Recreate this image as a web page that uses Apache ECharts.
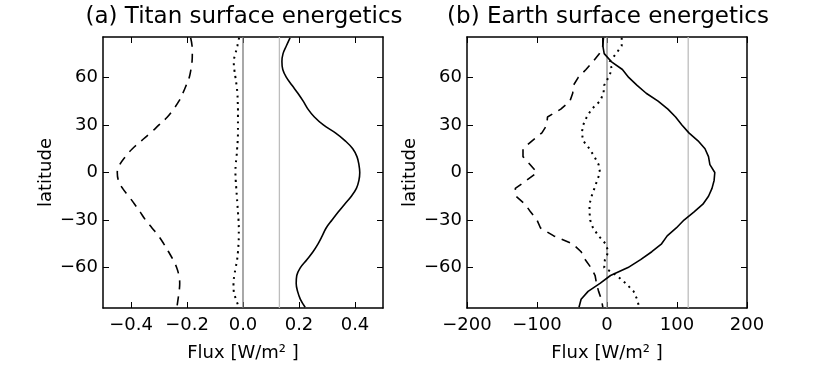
<!DOCTYPE html>
<html>
<head>
<meta charset="utf-8">
<script src="https://cdn.jsdelivr.net/npm/echarts@6/dist/echarts.min.js"></script>
<style>
  html, body { margin: 0; padding: 0; background: #fff; }
  #chart { width: 830px; height: 367px; }
</style>
</head>
<body>
<div id="chart"></div>
<script>
// latitude (deg) shared by all curves
var latitudes = [85, 80, 75, 70, 65, 60, 55, 50, 45, 40, 35, 30, 25, 20, 15, 10, 5, 0,
  -5, -10, -15, -20, -25, -30, -35, -40, -45, -50, -55, -60, -65, -70, -75, -80, -85];

// (a) Titan surface fluxes [W/m2]
var titanDashed = [-0.187, -0.182, -0.181, -0.182, -0.186, -0.192, -0.203, -0.215, -0.229, -0.248,
  -0.27, -0.3, -0.33, -0.363, -0.395, -0.42, -0.44, -0.449,
  -0.445, -0.43, -0.408, -0.387, -0.367, -0.348, -0.325, -0.302, -0.283, -0.266, -0.25, -0.237,
  -0.229, -0.226, -0.228, -0.232, -0.236];
var titanDotted = [-0.014, -0.02, -0.027, -0.033, -0.031, -0.027, -0.023, -0.02, -0.019, -0.018,
  -0.018, -0.018, -0.018, -0.019, -0.021, -0.023, -0.026, -0.027,
  -0.026, -0.024, -0.022, -0.02, -0.018, -0.016, -0.015, -0.015, -0.016, -0.018, -0.021, -0.026,
  -0.031, -0.034, -0.033, -0.025, -0.015];
var titanSolid = [0.168, 0.155, 0.143, 0.139, 0.142, 0.155, 0.175, 0.196, 0.215, 0.232,
  0.255, 0.287, 0.33, 0.365, 0.392, 0.407, 0.414, 0.417,
  0.414, 0.405, 0.387, 0.363, 0.34, 0.318, 0.297, 0.283, 0.268, 0.25, 0.228, 0.205,
  0.192, 0.19, 0.195, 0.205, 0.222];

// (b) Earth surface fluxes [W/m2]
var earthDashed = [-5, -6, -11, -20, -30, -41, -48, -49, -53, -66,
  -85, -86, -93, -107, -120, -120, -110, -100,
  -115, -131, -130, -117, -109, -100, -95, -76, -49, -37, -31, -23,
  -17, -15, -12, -8, -6];
var earthDotted = [21, 21, 13, 4, 7, 2, -4, -5, -10, -22,
  -29, -34, -36, -34, -25, -18, -12, -10,
  -14, -18, -22, -25, -25, -24, -20, -12, -2, 2, -3, -4,
  14, 27, 38, 43, 46];
var earthSolid = [-6, -6, -4, 6, 22, 31, 43, 56, 73, 87,
  98, 107, 117, 130, 140, 145, 147, 154,
  153, 150, 145, 137, 124, 110, 99, 86, 78, 64, 48, 30,
  5, -10, -27, -37, -40];

// thin grey verticals
var titanRef = [0, 0.13];
var earthRef = [0, 116];

var titanTicks = [-0.4, -0.2, 0, 0.2, 0.4];
var earthTicks = [-200, -100, 0, 100, 200];
var latTicks = [-60, -30, 0, 30, 60];
var latMin = -85.5, latMax = 85.5;

var FONT = 'DejaVu Sans';

function minus(s) { return String(s).replace('-', '\u2212'); }

function pairs(xs) {
  return xs.map(function (v, i) { return [v, latitudes[i]]; });
}

function tick(vals) {
  return { show: true, inside: true, length: 6, customValues: vals, lineStyle: { color: '#000', width: 1 } };
}
var frame = { show: true, onZero: false, lineStyle: { color: '#000', width: 1.5 } };

function xPair(gi, min, max, ticks, fmt) {
  return [
    {
      type: 'value', gridIndex: gi, position: 'bottom', min: min, max: max,
      axisLine: frame, axisTick: tick(ticks), splitLine: { show: false },
      axisLabel: { customValues: ticks, margin: 8, color: '#000', fontFamily: FONT, fontSize: 18,
        formatter: function (v) { return minus(fmt(v)); } },
      name: 'Flux [W/m\u00b2 ]', nameLocation: 'middle', nameGap: 36,
      nameTextStyle: { color: '#000', fontFamily: FONT, fontSize: 18 }
    },
    {
      type: 'value', gridIndex: gi, position: 'top', min: min, max: max,
      axisLine: frame, axisTick: tick(ticks), axisLabel: { show: false }, splitLine: { show: false }
    }
  ];
}

function yPair(gi) {
  return [
    {
      type: 'value', gridIndex: gi, position: 'left', min: latMin, max: latMax,
      axisLine: frame, axisTick: tick(latTicks), splitLine: { show: false },
      axisLabel: { customValues: latTicks, margin: 5, color: '#000', fontFamily: FONT, fontSize: 18,
        formatter: function (v) { return minus(v); } },
      name: 'latitude', nameLocation: 'middle', nameGap: 48, nameRotate: 90,
      nameTextStyle: { color: '#000', fontFamily: FONT, fontSize: 18 }
    },
    {
      type: 'value', gridIndex: gi, position: 'right', min: latMin, max: latMax,
      axisLine: frame, axisTick: tick(latTicks), axisLabel: { show: false }, splitLine: { show: false }
    }
  ];
}

function refLine(xi, yi, v, color) {
  return {
    type: 'line', xAxisIndex: xi, yAxisIndex: yi, z: 1, silent: true, symbol: 'none',
    data: [[v, latMin], [v, latMax]],
    lineStyle: { color: color, width: 1.3 }
  };
}

function curve(xi, yi, xs, dash, width, smooth) {
  return {
    type: 'line', xAxisIndex: xi, yAxisIndex: yi, z: 3, symbol: 'none', smooth: smooth,
    data: pairs(xs),
    lineStyle: { color: '#000', width: width, type: dash }
  };
}

var option = {
  animation: false,
  backgroundColor: '#fff',
  grid: [
    { left: 103, top: 37, width: 280, height: 275 },
    { left: 467, top: 37, width: 280, height: 275 }
  ],
  xAxis: xPair(0, -0.5, 0.5, titanTicks, function (v) { return v.toFixed(1); })
    .concat(xPair(1, -200, 200, earthTicks, function (v) { return String(v); })),
  yAxis: yPair(0).concat(yPair(1)),
  graphic: [
    { type: 'text', x: 244, y: 17, style: { text: '(a) Titan surface energetics', fill: '#000',
      font: '23px "DejaVu Sans"', textAlign: 'center', textVerticalAlign: 'middle' } },
    { type: 'text', x: 608, y: 17, style: { text: '(b) Earth surface energetics', fill: '#000',
      font: '23px "DejaVu Sans"', textAlign: 'center', textVerticalAlign: 'middle' } }
  ],
  series: [
    refLine(0, 0, titanRef[0], '#7a7a7a'),
    refLine(0, 0, titanRef[1], '#bdbdbd'),
    refLine(2, 2, earthRef[0], '#8a8a8a'),
    refLine(2, 2, earthRef[1], '#bdbdbd'),
    curve(0, 0, titanDashed, [9, 7], 1.6, 0.4),
    curve(0, 0, titanDotted, [2, 4.5], 2, 0.4),
    curve(0, 0, titanSolid, 'solid', 1.6, 0.4),
    curve(2, 2, earthDashed, [9, 7], 1.6, false),
    curve(2, 2, earthDotted, [2, 4.5], 2, false),
    curve(2, 2, earthSolid, 'solid', 1.6, false)
  ]
};

var myChart = echarts.init(document.getElementById('chart'), null, { renderer: 'canvas' });
option && myChart.setOption(option);
</script>
</body>
</html>
